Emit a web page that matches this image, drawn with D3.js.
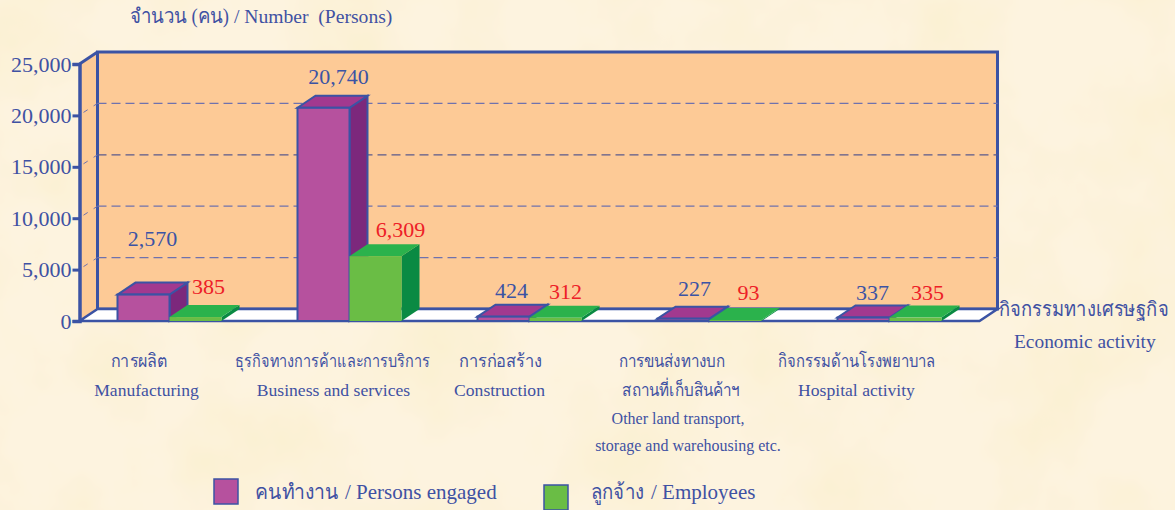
<!DOCTYPE html>
<html>
<head>
<meta charset="utf-8">
<script src="https://cdn.jsdelivr.net/npm/d3@7"></script>
<style>
	body { margin: 0; background: #fdf3df; overflow: hidden; }
	text { font-family: "Liberation Serif", "Noto Sans", serif; fill: #3f51a3; }
</style>
</head>
<body>
<svg id="chart" width="1175" height="510"></svg>
<script>
const categoriesTh = ["การผลิต", "ธุรกิจทางการค้าและการบริการ", "การก่อสร้าง", "การขนส่งทางบก", "กิจกรรมด้านโรงพยาบาล"];
const categoriesEn = ["Manufacturing", "Business and services", "Construction", "", "Hospital activity"];
const personsEngaged = [2570, 20740, 424, 227, 337];
const employees = [385, 6309, 312, 93, 335];
const yTicks = [0, 5000, 10000, 15000, 20000, 25000];

const blue = "#3b53a4";
const red = "#ed2027";
const depthX = 18;
const depthY = -12;

const svg = d3.select("#chart");
const fmt = d3.format(",");

// paper texture behind everything
const filter = svg.append("defs").append("filter")
	.attr("id", "paper")
	.attr("x", 0).attr("y", 0).attr("width", "100%").attr("height", "100%");
filter.append("feTurbulence")
	.attr("type", "fractalNoise")
	.attr("baseFrequency", 0.01)
	.attr("numOctaves", 4)
	.attr("seed", 4);
filter.append("feColorMatrix")
	.attr("type", "matrix")
	.attr("values", "0 0 0 0 0.96  0 0 0 0 0.87  0 0 0 0 0.62  1.6 0 0 0 -0.6");
svg.append("rect").attr("width", 1175).attr("height", 510).attr("filter", "url(#paper)");

const x0 = d3.scaleBand()
	.domain(d3.range(categoriesTh.length))
	.range([79.5, 979.5])
	.paddingInner(0.4222)
	.paddingOuter(0.2111);
const x1 = d3.scaleBand()
	.domain([0, 1])
	.range([0, x0.bandwidth()]);
const y = d3.scaleLinear()
	.domain([0, 25000])
	.range([321, 64]);

const poly = (pts) => pts.map((p) => p.join(",")).join(" ");

// walls and floor
const left = x0.range()[0];
const right = x0.range()[1];
svg.append("polygon")
	.attr("points", poly([[left, y(0)], [left + depthX, y(0) + depthY], [left + depthX, y(25000) + depthY], [left, y(25000)]]))
	.attr("fill", "#fdca96");
svg.append("rect")
	.attr("x", left + depthX)
	.attr("y", y(25000) + depthY)
	.attr("width", right - left)
	.attr("height", y(0) - y(25000))
	.attr("fill", "#fdca96")
	.attr("stroke", blue)
	.attr("stroke-width", 3);
svg.append("polygon")
	.attr("points", poly([[left, y(0)], [left + depthX, y(0) + depthY], [right + depthX, y(0) + depthY], [right, y(0)]]))
	.attr("fill", "#fff")
	.attr("stroke", blue)
	.attr("stroke-width", 2.5);

// dashed grid on back wall, with a short stub on the side wall
const grid = yTicks.slice(1, -1);
svg.selectAll(".grid")
	.data(grid)
	.enter().append("line")
	.attr("class", "grid")
	.attr("x1", left + depthX)
	.attr("x2", right + depthX)
	.attr("y1", (d) => y(d) + depthY)
	.attr("y2", (d) => y(d) + depthY)
	.attr("stroke", (d) => d === 15000 ? "#5a5a8c" : "#6f72ad")
	.attr("stroke-width", 1.2)
	.attr("stroke-dasharray", "9,5");
svg.selectAll(".stub")
	.data(grid)
	.enter().append("line")
	.attr("class", "stub")
	.attr("x1", left + 4)
	.attr("x2", left + depthX)
	.attr("y1", (d) => y(d) - 3)
	.attr("y2", (d) => y(d) + depthY)
	.attr("stroke", "#6f72ad")
	.attr("stroke-dasharray", "5,7");

// bars, front face then top then side
const seriesStyle = [
	{ values: personsEngaged, front: "#b6519e", top: "#a2398f", side: "#7c287c", stroke: blue, width: 2 },
	{ values: employees, front: "#6abd45", top: "#2bb24c", side: "#0a8a43", stroke: "none", width: 0 }
];
seriesStyle.forEach((s, si) => {
	const bar = svg.append("g").selectAll("g")
		.data(s.values)
		.enter().append("g");
	const bx = (i) => x0(i) + x1(si);
	const w = x1.bandwidth();
	bar.append("polygon")
		.attr("points", (d, i) => poly([[bx(i) + w, y(d)], [bx(i) + w + depthX, y(d) + depthY], [bx(i) + w + depthX, y(0) + depthY], [bx(i) + w, y(0)]]))
		.attr("fill", s.side)
		.attr("stroke", s.stroke)
		.attr("stroke-width", s.width);
	bar.append("polygon")
		.attr("points", (d, i) => poly([[bx(i), y(d)], [bx(i) + depthX, y(d) + depthY], [bx(i) + w + depthX, y(d) + depthY], [bx(i) + w, y(d)]]))
		.attr("fill", s.top)
		.attr("stroke", s.stroke)
		.attr("stroke-width", s.width);
	bar.append("rect")
		.attr("x", (d, i) => bx(i))
		.attr("y", (d) => y(d))
		.attr("width", w)
		.attr("height", (d) => y(0) - y(d))
		.attr("fill", s.front)
		.attr("stroke", s.stroke)
		.attr("stroke-width", s.width);
});

// axis
const axis = svg.append("g")
	.attr("transform", "translate(" + left + ",0)")
	.call(d3.axisLeft(y).tickValues(yTicks).tickFormat(fmt).tickSize(7).tickPadding(1));
axis.select(".domain").attr("stroke", blue).attr("stroke-width", 3.5);
axis.selectAll(".tick line").attr("stroke", blue).attr("stroke-width", 3);
axis.selectAll(".tick text").style("font-size", "22px").attr("fill", blue);
svg.append("line")
	.attr("x1", left)
	.attr("y1", y(25000))
	.attr("x2", left + depthX)
	.attr("y2", y(25000) + depthY)
	.attr("stroke", blue)
	.attr("stroke-width", 3);

// value labels sit by hand in the original, so nudge them the same way
const engagedNudge = [[9, -49], [15, -24], [8, -19], [11, -23], [9, -18]];
const employeeNudge = [[13, -23], [25, -19], [10, -19], [13, -20], [12, -18]];
const valueLabel = (values, si, nudge, colour) => {
	svg.append("g").selectAll("text")
		.data(values)
		.enter().append("text")
		.attr("x", (d, i) => x0(i) + x1(si) + x1.bandwidth() / 2 + nudge[i][0])
		.attr("y", (d, i) => y(d) + nudge[i][1])
		.attr("text-anchor", "middle")
		.style("font-size", "22px")
		.style("fill", colour)
		.text((d) => fmt(d));
};
valueLabel(personsEngaged, 0, engagedNudge, blue);
valueLabel(employees, 1, employeeNudge, red);

const note = (txt, tx, ty, size, anchor, length) => {
	const t = svg.append("text")
		.attr("text-anchor", anchor || "start")
		.style("font-size", size + "px")
		.text(txt);
	// Thai falls back to a wider face, squeeze it to the original's width
	const k = length ? length / t.node().getComputedTextLength() : 1;
	t.attr("transform", "translate(" + tx + "," + ty + ") scale(" + k + ",1)");
};

// category labels
const thCentre = [139, 332.5, 500.5, 672, 856.5];
const thWidth = [58, 195, 85, 108, 159];
const enCentre = [146.5, 333.5, 499.5, 0, 856.5];
categoriesTh.forEach((d, i) => note(d, thCentre[i], 367, 18, "middle", thWidth[i]));
categoriesEn.forEach((d, i) => note(d, enCentre[i], 396, 17.6, "middle"));
note("สถานที่เก็บสินค้าฯ", 681, 396, 18, "middle", 118);
note("Other land transport,", 678, 424, 16, "middle");
note("storage and warehousing etc.", 688, 451, 16, "middle");

// titles
note("จำนวน (คน)", 130, 23, 20, "start", 100);
note("/ Number\u00a0\u00a0(Persons)", 234, 23, 19.6);
note("กิจกรรมทางเศรษฐกิจ", 999, 316, 20, "start", 169);
note("Economic activity", 1014, 348, 19.4);

// legend
const legendItems = [
	{ th: "คนทำงาน", en: "/ Persons engaged", x: 214, y: 479, tx: 255, thLen: 83, ex: 345 },
	{ th: "ลูกจ้าง", en: "/ Employees", x: 544, y: 485, tx: 591, thLen: 53, ex: 651 }
];
const legendFill = ["#b6519e", "#6abd45"];
legendItems.forEach((d, i) => {
	svg.append("rect")
		.attr("x", d.x)
		.attr("y", d.y)
		.attr("width", 24)
		.attr("height", 25)
		.attr("fill", legendFill[i])
		.attr("stroke", blue)
		.attr("stroke-width", 1.5);
	note(d.th, d.tx, 499, 21, "start", d.thLen);
	note(d.en, d.ex, 499, 21);
});
</script>
</body>
</html>
